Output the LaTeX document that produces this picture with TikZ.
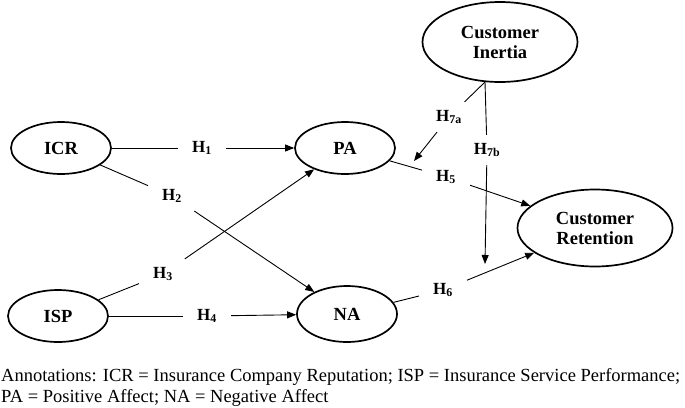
\documentclass[tikz,border=0pt]{standalone}
\usepackage{fontspec}
\setmainfont{Liberation Serif}
\usetikzlibrary{shapes.geometric,arrows.meta}

\tikzset{
  construct/.style={draw, ellipse, line width=1.7pt, minimum width=100pt,
    minimum height=52pt, inner sep=0pt, align=center,
    font=\fontsize{18.5}{20}\selectfont\bfseries},
  hyp/.style={inner xsep=14pt, inner ysep=8pt,
    font=\fontsize{17}{19}\selectfont\bfseries},
  link/.style={line width=0.9pt},
  arr/.style={link, -{Triangle[length=9pt,width=7pt]}}
}

\begin{document}
\begin{tikzpicture}[x=1pt,y=-1pt]
        \useasboundingbox (0,0) rectangle (685,407);

        % the constructs
        \node[construct] (icr) at (61,148) {ICR};
        \node[construct] (isp) at (58,316) {ISP};
        \node[construct] (pa) at (345,148) {PA};
        \node[construct, minimum height=56pt] (na) at (347,314) {NA};
        \node[construct, minimum width=155pt, minimum height=80pt] (ci) at (500,42) {Customer\\Inertia};
        \node[construct, minimum width=155pt, minimum height=77pt] (cr) at (595,228) {Customer\\Retention};

        % the hypothesis labels (the lines stop at their borders)
        \node[hyp] (h1) at (202,148) {H\textsubscript{1}};
        \node[hyp] (h2) at (172,196) {H\textsubscript{2}};
        \node[hyp] (h3) at (163,274) {H\textsubscript{3}};
        \node[hyp] (h4) at (207,316) {H\textsubscript{4}};
        \node[hyp] (h5) at (446,177) {H\textsubscript{5}};
        \node[hyp] (h6) at (443,290) {H\textsubscript{6}};
        \node[hyp] (h7a) at (449,117) {H\textsubscript{7a}};
        \node[hyp] (h7b) at (487,150) {H\textsubscript{7b}};

        % points where the moderating arrows meet the paths
        \coordinate (cib) at (485,82);
        \coordinate (m5) at (414,161);
        \coordinate (m6) at (485,264);

        % draw the paths
        \draw[link] (icr) -- (h1);
        \draw[arr] (h1) -- (pa);
        \draw[link] (icr) -- (h2);
        \draw[arr] (h2) -- (na);
        \draw[link] (isp) -- (h3);
        \draw[arr] (h3) -- (pa);
        \draw[link] (isp) -- (h4);
        \draw[arr] (h4) -- (na);
        \draw[link] (pa) -- (h5);
        \draw[arr] (h5) -- (cr);
        \draw[link] (na) -- (h6);
        \draw[arr] (h6) -- (cr);

        % the moderation of customer inertia
        \draw[link] (cib) -- (h7a);
        \draw[arr] (h7a) -- (m5);
        \draw[link] (cib) -- (h7b);
        \draw[arr] (h7b) -- (m6);

        % the annotations (base is the last line here)
        \node[anchor=base west, align=left, inner sep=0pt,
          font=\fontsize{18.5}{21}\selectfont] (notes) at (1,402)
          {Annotations: ICR = Insurance Company Reputation; ISP = Insurance Service Performance;\\
           PA = Positive Affect; NA = Negative Affect};

    \end{tikzpicture}
\end{document}
